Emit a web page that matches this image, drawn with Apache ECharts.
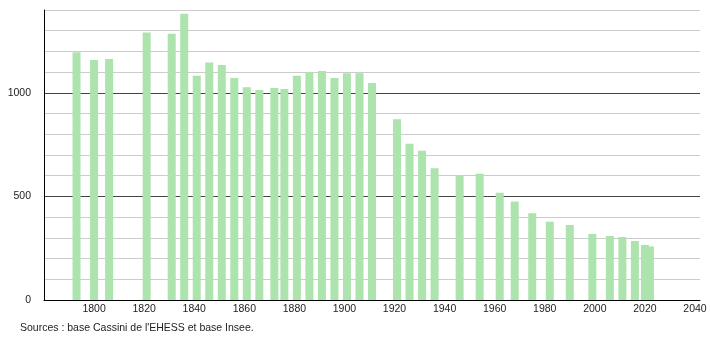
<!DOCTYPE html>
<html>
<head>
<meta charset="utf-8">
<script src="https://cdn.jsdelivr.net/npm/echarts@6/dist/echarts.min.js"></script>
<style>html,body{margin:0;padding:0;background:#fff}#c{width:710px;height:340px}</style>
</head>
<body>
<div id="c"></div>
<script>
const years = [1793,1800,1806,1821,1831,1836,1841,1846,1851,1856,1861,1866,1872,1876,1881,1886,1891,1896,1901,1906,1911,1921,1926,1931,1936,1946,1954,1962,1968,1975,1982,1990,1999,2006,2011,2016,2020,2022];
const population = [1196,1159,1164,1291,1285,1382,1082,1146,1135,1072,1027,1014,1024,1019,1082,1101,1106,1072,1095,1095,1047,873,754,720,636,601,609,518,475,419,378,362,319,309,304,285,266,259];
const yTickLabels = [0,500,1000];
const sourceText = "Sources : base Cassini de l'EHESS et base Insee.";

const chart = echarts.init(document.getElementById('c'), null, {renderer:'canvas'});
chart.setOption({
  animation:false,
  grid:{left:44,right:10,top:10,bottom:40,containLabel:false},
  xAxis:{
    type:'value', min:1780, max:2042, interval:20,
    axisLine:{show:true,lineStyle:{color:'#000',width:1}},
    axisTick:{show:false},
    splitLine:{show:false},
    axisLabel:{
      color:'#222', fontSize:10.5, fontFamily:'Liberation Sans, Arial, sans-serif', margin:4,
      formatter:function(v){return (v%20===0 && v>1780) ? String(v) : '';}
    }
  },
  yAxis:{
    type:'value', min:0, max:1400, interval:100,
    axisLine:{show:true,lineStyle:{color:'#000',width:1}},
    axisTick:{show:false},
    splitLine:{show:true,lineStyle:{color:['#444','#ccc','#ccc','#ccc','#ccc'],width:1}},
    axisLabel:{
      color:'#222', fontSize:10.5, fontFamily:'Liberation Sans, Arial, sans-serif', margin:13,
      formatter:function(v){return yTickLabels.indexOf(v)>=0 ? String(v) : '';}
    }
  },
  series:[{
    type:'bar',
    barWidth:8,
    itemStyle:{color:'#ade3ad'},
    data:years.map((y,i)=>[y,population[i]])
  }],
  graphic:[{
    type:'text', left:20, top:323,
    style:{text:sourceText, fill:'#222', font:'10.5px "Liberation Sans", Arial, sans-serif'}
  }]
});
</script>
</body>
</html>
